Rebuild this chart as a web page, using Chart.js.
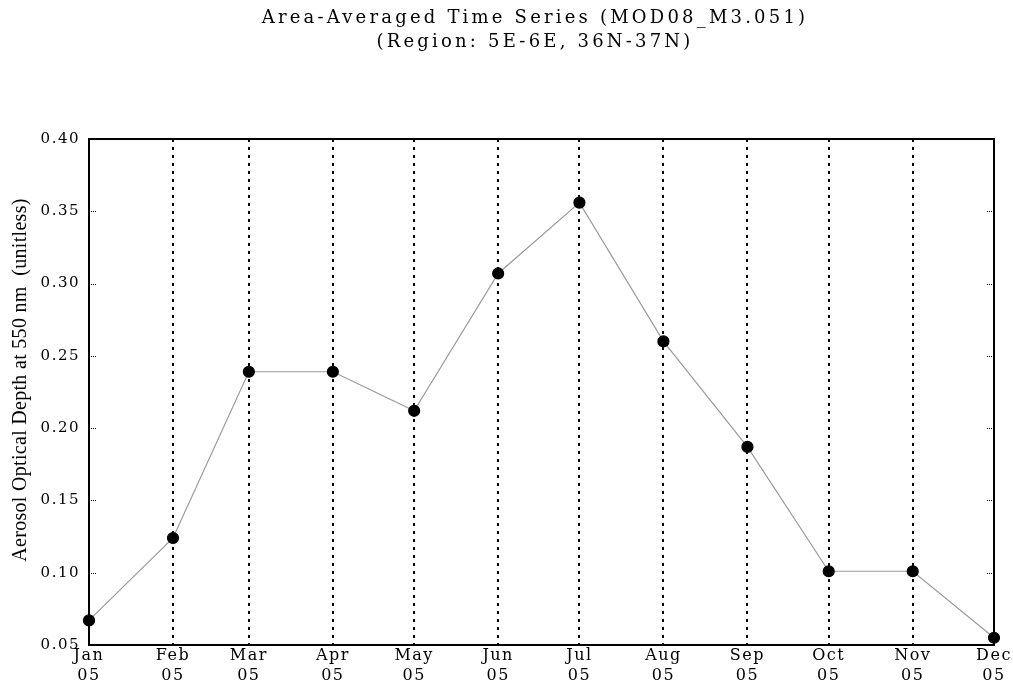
<!DOCTYPE html>
<html><head><meta charset="utf-8">
<script src="https://cdn.jsdelivr.net/npm/chart.js@4.4.1/dist/chart.umd.min.js"></script>
<style>html,body{margin:0;padding:0;background:#fff;}#wrap{width:1013px;height:688px;position:relative;}</style>
</head><body><div id="wrap"><canvas id="c" width="1013" height="688"></canvas></div>
<script>
const titleLines = ['Area-Averaged Time Series (MOD08_M3.051)', '(Region: 5E-6E, 36N-37N)'];
const yAxisTitle = 'Aerosol Optical Depth at 550 nm  (unitless)';
const months = ['Jan','Feb','Mar','Apr','May','Jun','Jul','Aug','Sep','Oct','Nov','Dec'];
const yearLabel = '05';
const monthDay = [0,31,59,90,120,151,181,212,243,273,304,334];
const aod = [0.067,0.124,0.239,0.239,0.212,0.307,0.356,0.260,0.187,0.101,0.101,0.055];
const yTicks = [0.05,0.10,0.15,0.20,0.25,0.30,0.35,0.40];

const points = monthDay.map((d,i)=>({x:d,y:aod[i]}));

const deco = {
  id:'deco',
  beforeDraw(chart){ chart.ctx.letterSpacing = '1.5px'; },
  afterDraw(chart){
    const {ctx, chartArea:a, scales} = chart;
    ctx.save();
    ctx.strokeStyle='#000'; ctx.lineWidth=2; ctx.setLineDash([]);
    ctx.strokeRect(a.left, a.top, a.right-a.left, a.bottom-a.top);
    ctx.lineWidth=1; ctx.setLineDash([1,1]);
    yTicks.forEach(v=>{
      const y=Math.round(scales.y.getPixelForValue(v))+0.5;
      ctx.beginPath(); ctx.moveTo(a.left,y); ctx.lineTo(a.left+7,y); ctx.stroke();
      ctx.beginPath(); ctx.moveTo(a.right,y); ctx.lineTo(a.right-7,y); ctx.stroke();
    });
    ctx.setLineDash([]);
    ctx.fillStyle='#000';
    ctx.textAlign='center'; ctx.textBaseline='middle';
    ctx.font='18px "DejaVu Serif"';
    ctx.letterSpacing='3.2px';
    ctx.fillText(titleLines[0], 535, 18);
    ctx.fillText(titleLines[1], 535, 42);
    ctx.letterSpacing='0.3px';
    ctx.font='20px "Liberation Serif"';
    ctx.translate(21, 380);
    ctx.rotate(-Math.PI/2);
    ctx.fillText(yAxisTitle, 0, 0);
    ctx.restore();
  }
};

new Chart(document.getElementById('c'), {
  type:'line',
  data:{datasets:[{
    data:points,
    borderColor:'#9a9a9a', borderWidth:1.2,
    pointBackgroundColor:'#000', pointBorderColor:'#000',
    pointRadius:5.5, pointHoverRadius:5.5, tension:0, clip:false
  }]},
  options:{
    responsive:false, animation:false, devicePixelRatio:1,
    layout:{padding:{top:139,right:19,left:0,bottom:0}},
    plugins:{legend:{display:false}, tooltip:{enabled:false}},
    scales:{
      x:{type:'linear', min:0, max:334,
        afterBuildTicks(s){ s.ticks = monthDay.map(v=>({value:v})); },
        afterFit(s){ s.height = 43; },
        grid:{display:true, drawOnChartArea:true, drawTicks:false, color:'#000', lineWidth:2},
        border:{display:true, color:'#000', width:2, dash:[3,5]},
        ticks:{autoSkip:false, maxRotation:0, padding:0, color:'#000',
          font:{family:'"DejaVu Serif"', size:16, lineHeight:1.3},
          callback:(v)=>{ const i=monthDay.indexOf(v); return i>=0?[months[i], yearLabel]:''; }}
      },
      y:{type:'linear', min:0.05, max:0.40,
        afterBuildTicks(s){ s.ticks = yTicks.map(v=>({value:v})); },
        afterFit(s){ s.width = 89; },
        grid:{display:false},
        border:{display:true, color:'#000', width:2},
        ticks:{padding:1, color:'#000', font:{family:'"DejaVu Serif"', size:15},
          callback:(v)=>v.toFixed(2)},
        title:{display:false}
      }
    }
  },
  plugins:[deco]
});
</script></body></html>
